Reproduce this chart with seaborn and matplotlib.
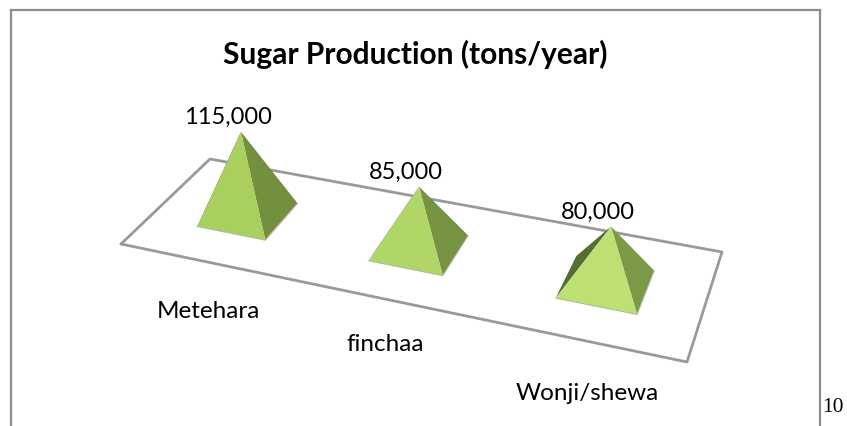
import numpy as np
import matplotlib
matplotlib.use('Agg')
import matplotlib.pyplot as plt
import seaborn as sns

# Datos
plants = ['Metehara', 'finchaa', 'Wonji/shewa']
production = [115000, 85000, 80000]
value_labels = ['115,000', '85,000', '80,000']
chart_title = 'Sugar Production (tons/year)'
page_number = '10'

# Colores de las caras
front_colors = ['#A9D05F', '#AFD666', '#BCE072']
side_colors = ['#73903F', '#759341', '#7A9A46']
left_colors = ['#566F30', '#566F30', '#566F30']

# Proyeccion del suelo (pixeles de la imagen)
FLOOR = np.array([[121, 245], [687, 363], [722, 253], [210, 160]], dtype=float)
PX_PER_TON = 83 / 115000
LEAN = 0.0005
BASE_DU = 0.068
BASE_DV = 0.205
LABEL_NUDGE = [(4, 49), (0.5, 45), (6, 53)]

sns.set_theme(style='white')
plt.rcParams['font.family'] = ['Lato', 'DejaVu Sans']


def floor_matrix():
    """Homografia del cuadrado unidad (u, v) a las esquinas del suelo."""
    src = [(0, 0), (1, 0), (1, 1), (0, 1)]
    A, b = [], []
    for (u, v), (x, y) in zip(src, FLOOR):
        A.append([u, v, 1, 0, 0, 0, -u * x, -v * x])
        A.append([0, 0, 0, u, v, 1, -u * y, -v * y])
        b += [x, y]
    return np.append(np.linalg.solve(np.array(A), np.array(b)), 1).reshape(3, 3)


H = floor_matrix()


def project(u, v):
    p = H @ np.array([u, v, 1.0])
    return p[:2] / p[2]


fig = plt.figure(figsize=(8.47, 4.27), dpi=100)
ax = fig.add_axes([11 / 847, 0, (820 - 11) / 847, (427 - 11) / 427])
ax.set_xlim(11, 820)
ax.set_ylim(427, 11)

# Suelo
outline = np.vstack([FLOOR, FLOOR[:1]])
sns.lineplot(x=outline[:, 0], y=outline[:, 1], sort=False, estimator=None,
             color='#9A9A9A', linewidth=2, ax=ax)

# Piramides
for i, (name, value) in enumerate(zip(plants, production)):
    u = (i + 0.5) / len(plants)
    left = project(u - BASE_DU, 0.5 - BASE_DV)
    front = project(u + BASE_DU, 0.5 - BASE_DV)
    right = project(u + BASE_DU, 0.5 + BASE_DV)
    back = project(u - BASE_DU, 0.5 + BASE_DV)
    center = project(u, 0.5)
    height = value * PX_PER_TON
    apex = center + np.array([(center[0] - 420) * LEAN * height, -height])

    # las caras van encima de la linea del suelo
    ax.fill(*zip(back, left, apex), color=left_colors[i], linewidth=0, zorder=3)
    ax.fill(*zip(front, right, apex), color=side_colors[i], linewidth=0, zorder=3)
    ax.fill(*zip(left, front, apex), color=front_colors[i], linewidth=0, zorder=3)
    ax.plot(*zip(left, front, right), color='#B5B5B5', linewidth=0.8, zorder=4)

    ax.text(apex[0] - 13, apex[1] - 15, value_labels[i], ha='center', va='center',
            fontsize=17, color='black', zorder=5)
    base = project(u, 0)
    dx, dy = LABEL_NUDGE[i]
    ax.text(base[0] + dx, base[1] + dy, name, ha='center', va='center',
            fontsize=17.5, color='black')

ax.text(415, 54, chart_title, ha='center', va='center', fontsize=21.5,
        fontweight='bold', color='black')
ax.text(833, 408, page_number, ha='center', va='center', fontsize=15.5,
        family='Liberation Serif', color='black', clip_on=False)

ax.set_xticks([])
ax.set_yticks([])
sns.despine(ax=ax, bottom=True, top=False, left=False, right=False)
for side in ['left', 'top', 'right']:
    ax.spines[side].set_color('#8C8C8C')
    ax.spines[side].set_linewidth(1.6)

fig.savefig('out.png', dpi=100)
plt.close(fig)
